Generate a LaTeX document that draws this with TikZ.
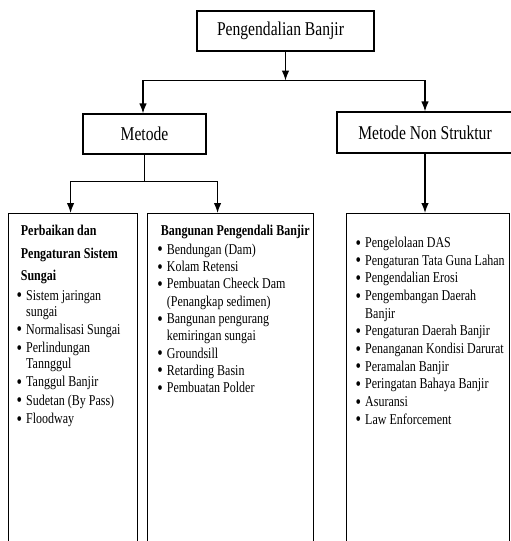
\documentclass[tikz,border=0pt]{standalone}
\usepackage{fontspec}
\setmainfont{Liberation Serif}[FakeStretch=0.8]
\usetikzlibrary{arrows.meta}

\tikzset{
  box/.style={draw, line width=1.1pt, inner sep=0pt},
  head/.style={box, font=\fontsize{19.5}{22}\selectfont},
  list/.style={anchor=north west, inner sep=0pt},
  line/.style={line width=1.3pt},
  arr/.style={line, -{Latex[length=10pt,width=7.5pt]}},
}
\newcommand{\bul}{\raisebox{-1.6pt}[0pt][0pt]{\scalebox{1.3}{\textbullet}}}

\begin{document}
\begin{tikzpicture}[x=1pt,y=-1pt]

\useasboundingbox (0,0) rectangle (511,541);
\clip (0,0) rectangle (511,541);

% Upper levels
\node[head, minimum width=177pt, minimum height=40pt] (banjir) at (285.5,31) {\hspace*{-10pt}Pengendalian Banjir};
\node[head, minimum width=123pt, minimum height=40pt] (metode) at (144.5,134) {Metode};
\node[head, minimum width=176pt, minimum height=41pt] (nonstruktur) at (425,132.5) {Metode Non Struktur};

% Lower boxes, they run past the bottom edge
\node[box, anchor=north west, minimum width=129pt, minimum height=340pt] (perbaikan) at (8,213) {};
\node[box, anchor=north west, minimum width=166pt, minimum height=340pt] (bangunan) at (147,213) {};
\node[box, anchor=north west, minimum width=163pt, minimum height=340pt] (daftar) at (346,213) {};

% Contents of the lower boxes
\node[list, font=\fontsize{15}{16}\selectfont] (perbaikanisi) at (16.5,224.5) {%
\begin{tabular}{@{}p{9.5pt}@{}l@{}}
\multicolumn{2}{@{\hspace{4.2pt}}l@{}}{\bfseries Perbaikan dan}\\[6.2pt]
\multicolumn{2}{@{\hspace{4.2pt}}l@{}}{\bfseries Pengaturan Sistem}\\[6.2pt]
\multicolumn{2}{@{\hspace{4.2pt}}l@{}}{\bfseries Sungai}\\[3.7pt]
\bul & Sistem jaringan\\
     & sungai\\[2.3pt]
\bul & Normalisasi Sungai\\[2.3pt]
\bul & Perlindungan\\
     & Tannggul\\[2.3pt]
\bul & Tanggul Banjir\\[2.3pt]
\bul & Sudetan (By Pass)\\[2.3pt]
\bul & Floodway
\end{tabular}};

\node[list, font=\fontsize{15}{17.3}\selectfont] (bangunanisi) at (157.2,223.6) {%
\begin{tabular}{@{}p{9.5pt}@{}l@{}}
\multicolumn{2}{@{\hspace{3.5pt}}l@{}}{\bfseries Bangunan Pengendali Banjir}\\[1pt]
\bul & Bendungan (Dam)\\
\bul & Kolam Retensi\\
\bul & Pembuatan Cheeck Dam\\
     & (Penangkap sedimen)\\
\bul & Bangunan pengurang\\
     & kemiringan sungai\\
\bul & Groundsill\\
\bul & Retarding Basin\\
\bul & Pembuatan Polder
\end{tabular}};

\node[list, font=\fontsize{15}{17.67}\selectfont] (daftarisi) at (355.5,234.9) {%
\begin{tabular}{@{}p{9.5pt}@{}l@{}}
\bul & Pengelolaan DAS\\
\bul & Pengaturan Tata Guna Lahan\\
\bul & Pengendalian Erosi\\
\bul & Pengembangan Daerah\\
     & Banjir\\
\bul & Pengaturan Daerah Banjir\\
\bul & Penanganan Kondisi Darurat\\
\bul & Peramalan Banjir\\
\bul & Peringatan Bahaya Banjir\\
\bul & Asuransi\\
\bul & Law Enforcement
\end{tabular}};

% Connectors
\draw[arr] (banjir.south) -- ++(0,29) coordinate (a);
\draw[arr] (a) -| ([xshift=-1.5pt]metode.north);
\draw[arr] (a) -| (nonstruktur.north);

\draw[line] (metode.south) -- ++(0,27) coordinate (b);
\draw[arr] (b) -| ([xshift=-2.5pt]perbaikan.north);
\draw[arr] (b) -| ([xshift=-13pt]bangunan.north);

\draw[arr] (nonstruktur.south) -- (nonstruktur.south |- daftar.north);

\end{tikzpicture}
\end{document}
